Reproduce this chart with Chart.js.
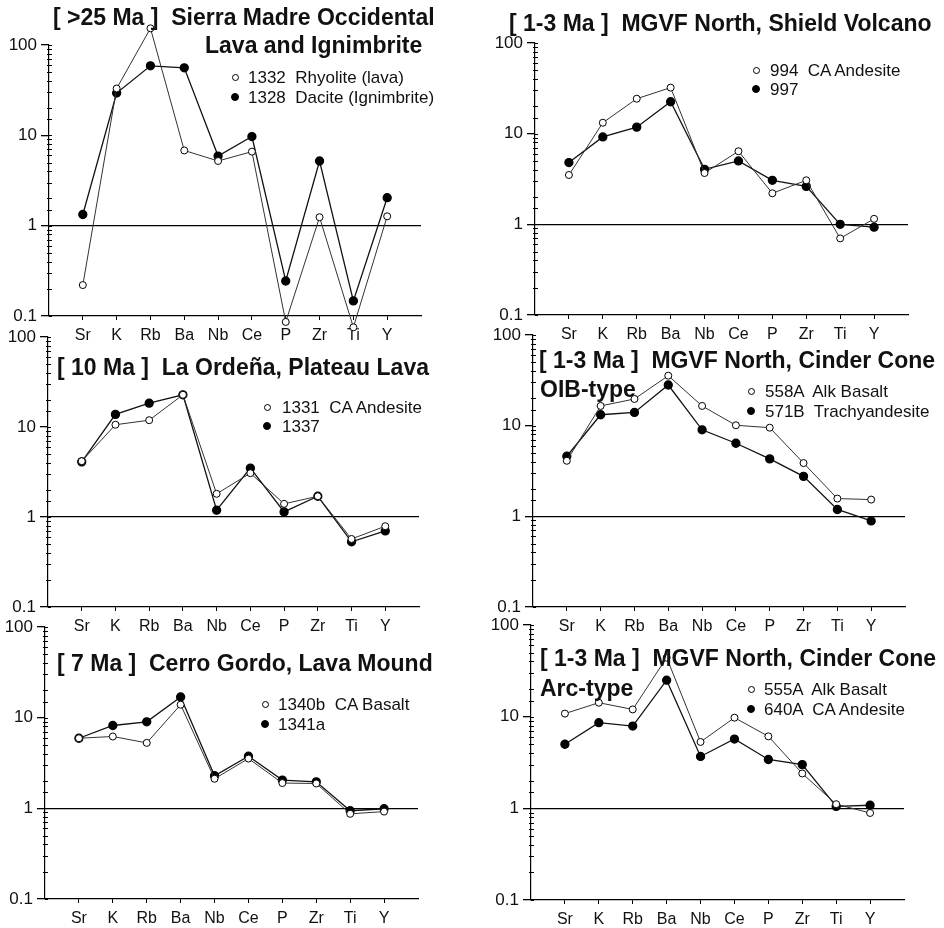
<!DOCTYPE html>
<html lang="en">
<head>
<meta charset="UTF-8">
<title>Spider diagrams</title>
<style>
  body { margin: 0; background: #fff; }
  #page { position: relative; width: 944px; height: 928px; background: #fff; overflow: hidden; }
  #page canvas { position: absolute; }
  .txt { position: absolute; white-space: pre; line-height: 1; color: #111; font-family: "Liberation Sans", Arial, sans-serif; }
  .mark { position: absolute; border-radius: 50%; box-sizing: border-box; }
</style>
</head>
<body>
<div id="page"></div>

<script src="https://cdn.jsdelivr.net/npm/chart.js"></script>
<script>
// element order along the x axis
const elements = ['Sr', 'K', 'Rb', 'Ba', 'Nb', 'Ce', 'P', 'Zr', 'Ti', 'Y'];
const yTicks = [0.1, 1, 10, 100];

// normalised values
const rhyolite1332 = [0.22, 33, 153, 6.8, 5.2, 6.6, 0.086, 1.24, 0.075, 1.27];
const dacite1328 = [1.33, 29.4, 58.8, 55.9, 5.9, 9.7, 0.244, 5.2, 0.147, 2.04];
const andesite994 = [3.5, 13.2, 24.3, 32.2, 3.68, 6.4, 2.2, 3.06, 0.70, 1.15];
const sample997 = [4.8, 9.2, 11.8, 22.5, 4.04, 5.0, 3.06, 2.62, 1.0, 0.93];
const andesite1331 = [4.17, 10.6, 11.9, 22.8, 1.81, 3.07, 1.4, 1.7, 0.57, 0.79];
const sample1337 = [4.1, 13.8, 18.4, 22.8, 1.19, 3.49, 1.14, 1.7, 0.53, 0.70];
const basalt558A = [4.1, 16.5, 19.7, 35.6, 16.5, 10.1, 9.5, 3.87, 1.57, 1.53];
const trachy571B = [4.6, 13.2, 14.0, 28.1, 9.0, 6.4, 4.3, 2.76, 1.19, 0.89];
const basalt1340b = [5.93, 6.2, 5.27, 13.9, 2.12, 3.54, 1.9, 1.88, 0.87, 0.92];
const sample1341a = [5.93, 8.2, 9.0, 16.9, 2.29, 3.76, 2.05, 1.96, 0.94, 0.99];
const basalt555A = [10.8, 14.2, 12.0, 44, 5.3, 9.75, 6.1, 2.4, 1.11, 0.89];
const andesite640A = [5.0, 8.6, 7.9, 25.0, 3.68, 5.7, 3.41, 3.0, 1.05, 1.08];

const titles = [
  '[ >25 Ma ]  Sierra Madre Occidental',
  '[ 1-3 Ma ]  MGVF North, Shield Volcano',
  '[ 10 Ma ]  La Ordeña, Plateau Lava',
  '[ 1-3 Ma ]  MGVF North, Cinder Cone',
  '[ 7 Ma ]  Cerro Gordo, Lava Mound',
  '[ 1-3 Ma ]  MGVF North, Cinder Cone'
];
const subtitles = ['Lava and Ignimbrite', '', '', 'OIB-type', '', 'Arc-type'];
const openLabels = ['1332  Rhyolite (lava)', '994  CA Andesite', '1331  CA Andesite', '558A  Alk Basalt', '1340b  CA Basalt', '555A  Alk Basalt'];
const filledLabels = ['1328  Dacite (Ignimbrite)', '997', '1337', '571B  Trachyandesite', '1341a', '640A  CA Andesite'];
const openSeries = [rhyolite1332, andesite994, andesite1331, basalt558A, basalt1340b, basalt555A];
const filledSeries = [dacite1328, sample997, sample1337, trachy571B, sample1341a, andesite640A];

// page positions: plot = [left, right, top, bottom], text = [x, baseline]
const layout = [
  { plot: [49, 421, 45, 316], title: [53, 25], sub: [205, 53], legend: [235, 248, 83, 103] },
  { plot: [535, 908, 43, 315], title: [509, 31], legend: [756, 770, 76, 95] },
  { plot: [48, 419, 337, 607], title: [57, 375], legend: [267, 282, 413, 432] },
  { plot: [533, 905, 335, 607], title: [539, 368], sub: [540, 397], legend: [751, 765, 397, 417] },
  { plot: [45, 418, 627, 899], title: [57, 671], legend: [265, 278, 710, 730] },
  { plot: [531, 904, 625, 900], title: [540, 666], sub: [540, 696], legend: [751, 764, 695, 715] }
];

const page = document.getElementById('page');
const FONT = '"Liberation Sans", Arial, sans-serif';

function isMajor(v) {
  return yTicks.some(t => Math.abs(v - t) / t < 1e-6);
}

function addText(str, x, base, size, bold) {
  const d = document.createElement('div');
  d.className = 'txt';
  d.textContent = str;
  d.style.left = x + 'px';
  d.style.top = (base - 0.8465 * size) + 'px';
  d.style.fontSize = size + 'px';
  if (bold) d.style.fontWeight = 'bold';
  page.appendChild(d);
}

function addMark(cx, cy, filled) {
  const d = document.createElement('div');
  const r = filled ? 4 : 3.5;
  d.className = 'mark';
  d.style.left = (cx - r) + 'px';
  d.style.top = (cy - r) + 'px';
  d.style.width = d.style.height = (2 * r) + 'px';
  d.style.background = filled ? '#000' : '#fff';
  d.style.border = '1px solid #000';
  page.appendChild(d);
}

// short ticks crossing the y axis for the minor log steps, plus a small inner stub on majors
const axisTicks = {
  id: 'axisTicks',
  afterDraw(chart) {
    const y = chart.scales.y, ctx = chart.ctx, x0 = chart.chartArea.left;
    ctx.save();
    ctx.strokeStyle = '#000';
    ctx.lineWidth = 1;
    y.ticks.forEach(t => {
      const p = Math.round(y.getPixelForValue(t.value)) + 0.5;
      const major = isMajor(t.value);
      ctx.beginPath();
      ctx.moveTo(major ? x0 : x0 - 2, p);
      ctx.lineTo(x0 + 3, p);
      ctx.stroke();
    });
    ctx.restore();
  }
};

// Chart.js skips points that fall outside the chart area; the original plots them past the axes
const offAreaPoints = {
  id: 'offAreaPoints',
  afterDatasetsDraw(chart) {
    const a = chart.chartArea, ctx = chart.ctx;
    chart.data.datasets.forEach((ds, di) => {
      chart.getDatasetMeta(di).data.forEach(pt => {
        if (pt.y >= a.top - 1 && pt.y <= a.bottom + 1) return;
        ctx.save();
        ctx.beginPath();
        ctx.arc(pt.x, pt.y, ds.pointRadius, 0, Math.PI * 2);
        ctx.fillStyle = ds.pointBackgroundColor;
        ctx.fill();
        ctx.lineWidth = 1;
        ctx.strokeStyle = ds.pointBorderColor;
        ctx.stroke();
        ctx.restore();
      });
    });
  }
};

const PAD_L = 50, PAD_T = 30, PAD_R = 20, PAD_B = 40;

layout.forEach((L, i) => {
  const [l, r, t, b] = L.plot;
  const cv = document.createElement('canvas');
  const w = (r - l) + PAD_L + PAD_R, h = (b - t) + PAD_T + PAD_B;
  cv.width = w; cv.height = h;
  cv.style.left = (l - PAD_L) + 'px';
  cv.style.top = (t - PAD_T) + 'px';
  page.appendChild(cv);

  new Chart(cv, {
    type: 'line',
    data: {
      datasets: [
        {
          label: openLabels[i],
          data: openSeries[i].map((v, k) => ({ x: k, y: v })),
          borderColor: '#333',
          borderWidth: 1,
          pointRadius: 3.5,
          pointBackgroundColor: '#fff',
          pointBorderColor: '#000',
          pointBorderWidth: 1,
          clip: false
        },
        {
          label: filledLabels[i],
          data: filledSeries[i].map((v, k) => ({ x: k, y: v })),
          borderColor: '#111',
          borderWidth: 1.3,
          pointRadius: 4,
          pointBackgroundColor: '#000',
          pointBorderColor: '#000',
          clip: false
        }
      ]
    },
    options: {
      responsive: false,
      animation: false,
      layout: { padding: { left: 0, top: PAD_T, right: PAD_R, bottom: 0 } },
      plugins: { legend: { display: false }, tooltip: { enabled: false } },
      scales: {
        x: {
          type: 'linear',
          min: -1,
          max: 10,
          afterBuildTicks: s => { s.ticks = elements.map((_, k) => ({ value: k })); },
          afterFit: s => { s.height = PAD_B; },
          ticks: {
            autoSkip: false,
            maxRotation: 0,
            padding: 6,
            color: '#111',
            font: { family: FONT, size: 16 },
            callback: v => elements[v]
          },
          grid: { drawOnChartArea: false, tickLength: 4, color: '#000' },
          border: { color: '#000', width: 1.2 }
        },
        y: {
          type: 'logarithmic',
          min: 0.1,
          max: 100,
          afterFit: s => { s.width = PAD_L; },
          ticks: {
            autoSkip: false,
            padding: 4,
            color: '#111',
            font: { family: FONT, size: 17 },
            callback: v => isMajor(v) ? String(+v.toPrecision(3)) : ''
          },
          grid: {
            tickLength: 8,
            lineWidth: 1.3,
            color: c => (c.tick && Math.abs(c.tick.value - 1) < 1e-9) ? '#000' : 'rgba(0,0,0,0)',
            tickColor: c => (c.tick && isMajor(c.tick.value)) ? '#000' : 'rgba(0,0,0,0)'
          },
          border: { color: '#000', width: 1.2 }
        }
      }
    },
    plugins: [axisTicks, offAreaPoints]
  });

  addText(titles[i], L.title[0], L.title[1], 23, true);
  if (L.sub) addText(subtitles[i], L.sub[0], L.sub[1], 23, true);
  const [mx, tx, b1, b2] = L.legend;
  addMark(mx, b1 - 6, false);
  addText(openLabels[i], tx, b1, 17, false);
  addMark(mx, b2 - 6, true);
  addText(filledLabels[i], tx, b2, 17, false);
});
</script>
</body>
</html>
